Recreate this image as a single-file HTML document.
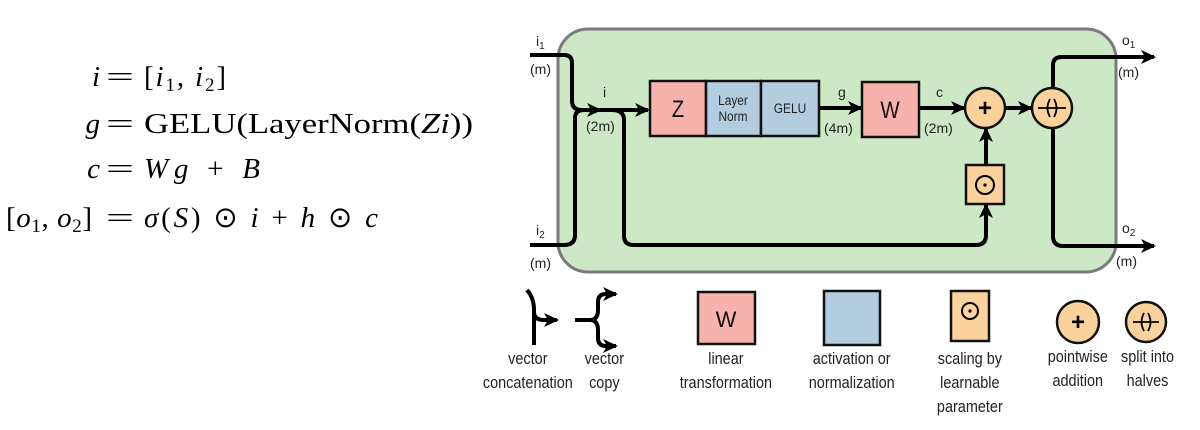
<!DOCTYPE html>
<html><head><meta charset="utf-8"><style>
html,body{margin:0;padding:0;background:#fff;}
svg{display:block;}
.eq{font-family:"Liberation Serif",serif;font-size:29px;fill:#000;}
.s{font-family:"Liberation Sans",sans-serif;fill:#222;}
</style></head><body>
<svg width="1200" height="430" viewBox="0 0 1200 430" xmlns="http://www.w3.org/2000/svg">
<defs>
<marker id="a" markerWidth="16" markerHeight="14" refX="13" refY="7" orient="auto" markerUnits="userSpaceOnUse">
<path d="M0,0 L15,7 L0,14 L4,7 z" fill="#000"/></marker>
</defs>
<g class="eq">
<text x="100" y="86" text-anchor="end"><tspan font-style="italic">i</tspan></text>
<text x="106" y="86" textLength="28" lengthAdjust="spacingAndGlyphs">=</text>
<text x="144" y="86" textLength="82" lengthAdjust="spacing">[<tspan font-style="italic">i</tspan><tspan font-size="19" dy="5">1</tspan><tspan dy="-5">, </tspan><tspan font-style="italic">i</tspan><tspan font-size="19" dy="5">2</tspan><tspan dy="-5">]</tspan></text>
<text x="100" y="133" text-anchor="end"><tspan font-style="italic">g</tspan></text>
<text x="106" y="133" textLength="28" lengthAdjust="spacingAndGlyphs">=</text>
<text x="144" y="133" textLength="329" lengthAdjust="spacingAndGlyphs">GELU(LayerNorm(<tspan font-style="italic">Zi</tspan>))</text>
<text x="100" y="178" text-anchor="end"><tspan font-style="italic">c</tspan></text>
<text x="106" y="178" textLength="28" lengthAdjust="spacingAndGlyphs">=</text>
<text x="144" y="178" textLength="116" lengthAdjust="spacing"><tspan font-style="italic">Wg</tspan> + <tspan font-style="italic">B</tspan></text>
<text x="6" y="227" textLength="86" lengthAdjust="spacing">[<tspan font-style="italic">o</tspan><tspan font-size="19" dy="5">1</tspan><tspan dy="-5">, </tspan><tspan font-style="italic">o</tspan><tspan font-size="19" dy="5">2</tspan><tspan dy="-5">]</tspan></text>
<text x="106" y="227" textLength="28" lengthAdjust="spacingAndGlyphs">=</text>
<text x="144" y="227" textLength="234" lengthAdjust="spacing"><tspan font-style="italic">σ</tspan>(<tspan font-style="italic">S</tspan>) ⊙ <tspan font-style="italic">i</tspan> + <tspan font-style="italic">h</tspan> ⊙ <tspan font-style="italic">c</tspan></text>
</g>
<rect x="558" y="29" width="558" height="243" rx="30" fill="#cde8c5" stroke="#7a7a7a" stroke-width="3"/>
<g fill="none" stroke="#000" stroke-width="4">
<path d="M530,55 L564,55 Q572,55 572,63 L572,101 Q572,110 582,110 L600,110" marker-end="url(#a)"/>
<path d="M530,245 L564,245 Q575,245 575,235 L575,118 Q575,110 584,110"/>
<path d="M598,110 L648,110" marker-end="url(#a)"/>
<path d="M612,110 Q624,110 624,120 L624,236 Q624,245 634,245 L976,245 Q986,245 986,235 L986,205" marker-end="url(#a)"/>
<path d="M819,108 L861,108" marker-end="url(#a)"/>
<path d="M919,108 L964,108" marker-end="url(#a)"/>
<path d="M1005,108 L1031,108" marker-end="url(#a)"/>
<path d="M986,164 L986,129" marker-end="url(#a)"/>
<path d="M1053,88 L1053,65 Q1053,57 1062,57 L1154,57" marker-end="url(#a)"/>
<path d="M1053,128 L1053,236 Q1053,246 1063,246 L1154,246" marker-end="url(#a)"/>
</g>
<g stroke="#111" stroke-width="2.5">
<rect x="650" y="81" width="56" height="55" fill="#f7b2ac"/>
<rect x="706" y="81" width="55" height="55" fill="#b3cde0"/>
<rect x="761" y="81" width="58" height="55" fill="#b3cde0"/>
<rect x="862" y="82" width="57" height="55" fill="#f7b2ac"/>
<rect x="966" y="165" width="38" height="39" fill="#fbd19c"/>
<circle cx="985" cy="108" r="20" fill="#fbd19c"/>
<circle cx="1052" cy="108" r="20" fill="#fbd19c"/>
</g>
<g class="s">
<text x="678" y="117" font-size="24" text-anchor="middle" fill="#111" transform="translate(678,0) scale(0.85,1) translate(-678,0)">Z</text>
<text x="733" y="105" font-size="14" text-anchor="middle" transform="translate(733,0) scale(0.85,1) translate(-733,0)">Layer</text>
<text x="733" y="121" font-size="14" text-anchor="middle" transform="translate(733,0) scale(0.85,1) translate(-733,0)">Norm</text>
<text x="790" y="113" font-size="14" text-anchor="middle" transform="translate(790,0) scale(0.85,1) translate(-790,0)">GELU</text>
<text x="890" y="118" font-size="24" text-anchor="middle" fill="#111" transform="translate(890,0) scale(0.85,1) translate(-890,0)">W</text>
<text x="985" y="116" font-size="24" font-weight="bold" text-anchor="middle" fill="#000">+</text>
<text x="536" y="46" font-size="14">i<tspan font-size="10" dy="3">1</tspan></text>
<text x="530" y="74" font-size="14">(m)</text>
<text x="536" y="235" font-size="14">i<tspan font-size="10" dy="3">2</tspan></text>
<text x="530" y="268" font-size="14">(m)</text>
<text x="603" y="97" font-size="14">i</text>
<text x="586" y="131" font-size="14">(2m)</text>
<text x="838" y="97" font-size="14">g</text>
<text x="824" y="133" font-size="14">(4m)</text>
<text x="936" y="97" font-size="14">c</text>
<text x="924" y="133" font-size="14">(2m)</text>
<text x="1122" y="45" font-size="14">o<tspan font-size="10" dy="3">1</tspan></text>
<text x="1118" y="77" font-size="14">(m)</text>
<text x="1122" y="233" font-size="14">o<tspan font-size="10" dy="3">2</tspan></text>
<text x="1116" y="266" font-size="14">(m)</text>
</g>
<circle cx="985" cy="185" r="9" fill="none" stroke="#000" stroke-width="2"/>
<circle cx="985" cy="185" r="1.6" fill="#000"/>
<g fill="none" stroke="#000" stroke-width="1.8">
<path d="M1038,108 L1066,108"/>
<path d="M1050,99 Q1045,108 1050,117 M1054,99 Q1059,108 1054,117"/>
</g>
<g fill="none" stroke="#000" stroke-width="4">
<path d="M527,290 Q534,298 534,310 L534,345" />
<path d="M534,312 Q534,320 544,320 L557,320" marker-end="url(#a)"/>
<path d="M575,320 L590,320 Q598,320 598,310 L598,302 Q598,294 606,294 L616,294" marker-end="url(#a)"/>
<path d="M590,320 Q598,320 598,330 L598,338 Q598,346 606,346 L616,346" marker-end="url(#a)"/>
</g>
<g stroke="#111" stroke-width="2.5">
<rect x="698" y="292" width="57" height="52" fill="#f7b2ac"/>
<rect x="824" y="291" width="56" height="54" fill="#b3cde0"/>
<rect x="951" y="291" width="38" height="50" fill="#fbd19c"/>
<circle cx="1078" cy="322" r="21" fill="#fbd19c"/>
<circle cx="1146" cy="322" r="20" fill="#fbd19c"/>
</g>
<circle cx="970" cy="311" r="8" fill="none" stroke="#000" stroke-width="2"/>
<circle cx="970" cy="311" r="1.6" fill="#000"/>
<g fill="none" stroke="#000" stroke-width="1.8">
<path d="M1133,322 L1159,322"/>
<path d="M1144,313 Q1139,322 1144,331 M1148,313 Q1153,322 1148,331"/>
</g>
<g class="s" text-anchor="middle" fill="#222">
<text x="726" y="327" font-size="22" fill="#111">W</text>
<text x="1078" y="330" font-size="24" font-weight="bold" fill="#000">+</text>
</g>
<g class="s" font-size="17" text-anchor="middle" fill="#222" transform="scale(0.85,1)">
<text x="621" y="364">vector</text><text x="621" y="388">concatenation</text>
<text x="711" y="364">vector</text><text x="711" y="388">copy</text>
<text x="854" y="364">linear</text><text x="854" y="388">transformation</text>
<text x="1002" y="364">activation or</text><text x="1002" y="388">normalization</text>
<text x="1141" y="364">scaling by</text><text x="1141" y="388">learnable</text><text x="1141" y="412">parameter</text>
<text x="1268" y="362">pointwise</text><text x="1268" y="386">addition</text>
<text x="1350" y="362">split into</text><text x="1350" y="386">halves</text>
</g>
</svg>
</body></html>
